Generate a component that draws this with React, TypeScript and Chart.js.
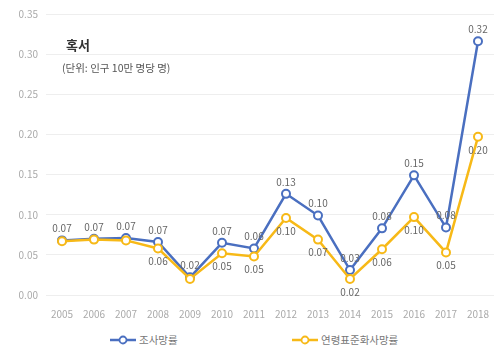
import React, { useEffect, useRef } from "react";
import { Chart, registerables } from "chart.js";

Chart.register(...registerables);

const years = ["2005","2006","2007","2008","2009","2010","2011","2012","2013","2014","2015","2016","2017","2018"];
const crudeRate = [0.068,0.070,0.071,0.066,0.022,0.065,0.058,0.126,0.099,0.031,0.083,0.149,0.084,0.316];
const ageStdRate = [0.067,0.069,0.068,0.058,0.020,0.052,0.048,0.096,0.069,0.020,0.057,0.097,0.053,0.197];
const yTicks = [0, 0.05, 0.1, 0.15, 0.2, 0.25, 0.3, 0.35];
const seriesNames = ["조사망률", "연령표준화사망률"];
const hiddenAgeLabels = ["2005", "2006", "2007", "2009"];
const titleText = "혹서";
const subtitleText = "(단위: 인구 10만 명당 명)";

const BLUE = "#4a6fc0";
const YELLOW = "#f7b917";
const FONT = "'Noto Sans CJK KR', 'Noto Sans', sans-serif";

const labelPlugin = {
  id: "valueLabels",
  afterDatasetsDraw(chart: any) {
    const ctx = chart.ctx;
    ctx.save();
    ctx.font = `10px ${FONT}`;
    ctx.fillStyle = "#666";
    ctx.textAlign = "center";
    chart.data.datasets.forEach((ds: any, di: number) => {
      const meta = chart.getDatasetMeta(di);
      meta.data.forEach((pt: any, i: number) => {
        const v = ds.data[i];
        const txt = v.toFixed(2);
        if (ds.label === seriesNames[0]) {
          ctx.textBaseline = "bottom";
          ctx.fillText(txt, pt.x, pt.y - 7);
        } else {
          if (hiddenAgeLabels.includes(years[i])) return;
          ctx.textBaseline = "top";
          ctx.fillText(txt, pt.x, pt.y + 8);
        }
      });
    });
    // title
    ctx.textAlign = "left";
    ctx.textBaseline = "middle";
    ctx.fillStyle = "#333";
    ctx.font = `bold 13px ${FONT}`;
    ctx.fillText(titleText, 66, 45);
    ctx.fillStyle = "#555";
    ctx.font = `10.5px ${FONT}`;
    ctx.fillText(subtitleText, 62, 68);
    ctx.restore();
  },
};

function LegendMark({ color }: { color: string }) {
  return (
    <svg width="26" height="10" style={{ marginRight: 3 }}>
      <line x1="0" y1="5" x2="26" y2="5" stroke={color} strokeWidth="2.5" />
      <circle cx="13" cy="5" r="3.5" fill="#fff" stroke={color} strokeWidth="1.8" />
    </svg>
  );
}

export default function App() {
  const ref = useRef<HTMLCanvasElement>(null);
  useEffect(() => {
    if (!ref.current) return;
    const chart = new Chart(ref.current, {
      type: "line",
      data: {
        labels: years,
        datasets: [
          {
            label: seriesNames[0],
            data: crudeRate,
            borderColor: BLUE,
            backgroundColor: "#fff",
            borderWidth: 2.5,
            pointRadius: 4,
            pointBorderWidth: 2,
            pointBackgroundColor: "#fff",
            pointBorderColor: BLUE,
            tension: 0,
            order: 1,
          },
          {
            label: seriesNames[1],
            data: ageStdRate,
            borderColor: YELLOW,
            backgroundColor: "#fff",
            borderWidth: 2.5,
            pointRadius: 4,
            pointBorderWidth: 2,
            pointBackgroundColor: "#fff",
            pointBorderColor: YELLOW,
            tension: 0,
            order: 0,
          },
        ],
      },
      options: {
        animation: false,
        responsive: false,
        maintainAspectRatio: false,
        layout: { padding: { top: 10, right: 0, left: 4, bottom: 0 } },
        plugins: { legend: { display: false }, tooltip: { enabled: false } },
        scales: {
          x: {
            offset: true,
            grid: { display: false },
            border: { display: false },
            ticks: { color: "#aaa", font: { size: 10, family: FONT }, maxRotation: 0, autoSkip: false, padding: 5 },
          },
          y: {
            min: 0,
            max: 0.35,
            afterBuildTicks: (axis: any) => {
              axis.ticks = yTicks.map((v) => ({ value: v }));
            },
            afterFit: (axis: any) => {
              axis.width = 42;
            },
            grid: { color: "#eeeeee", drawTicks: false },
            border: { display: false },
            ticks: {
              color: "#aaa",
              font: { size: 10, family: FONT },
              padding: 8,
              callback: (v: any) => Number(v).toFixed(2),
            },
          },
        },
      },
      plugins: [labelPlugin],
    });
    return () => chart.destroy();
  }, []);

  return (
    <div style={{ position: "fixed", left: 0, top: 0, width: 500, height: 351, background: "#fff" }}>
      <canvas ref={ref} width={500} height={325} style={{ display: "block" }} />
      <div style={{ position: "absolute", top: 332, left: 0, width: 500, height: 16, fontFamily: FONT, fontSize: 10.5, color: "#777" }}>
        <div style={{ position: "absolute", left: 110, top: 0, display: "flex", alignItems: "center" }}>
          <LegendMark color={BLUE} />
          <span>{seriesNames[0]}</span>
        </div>
        <div style={{ position: "absolute", left: 292, top: 0, display: "flex", alignItems: "center" }}>
          <LegendMark color={YELLOW} />
          <span>{seriesNames[1]}</span>
        </div>
      </div>
    </div>
  );
}
